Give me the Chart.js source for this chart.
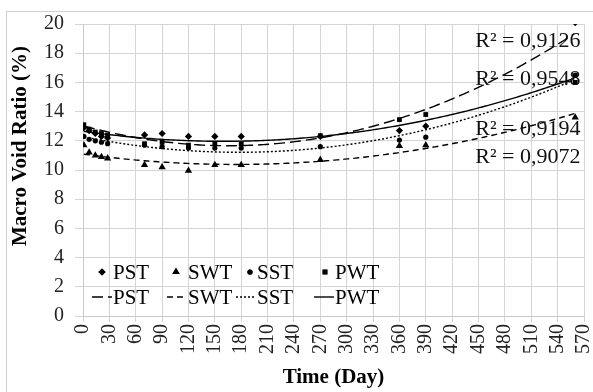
<!DOCTYPE html>
<html>
<head>
<meta charset="utf-8">
<script src="https://cdn.jsdelivr.net/npm/chart.js@4.4.1/dist/chart.umd.min.js"></script>
<style>
  body { margin: 0; background: #fff; }
  canvas { display: block; }
</style>
</head>
<body>
<canvas id="chart" width="593" height="392"></canvas>
<script>
const days = [1, 7, 14, 21, 28, 70, 90, 120, 150, 180, 270, 360, 390, 560];
const pst = [12.9, 12.7, 12.5, 12.3, 12.2, 12.4, 12.5, 12.3, 12.3, 12.3, 12.3, 12.7, 13.0, 20.1];
const swt = [11.7, 11.2, 11.0, 10.9, 10.8, 10.35, 10.2, 9.95, 10.35, 10.35, 10.7, 11.65, 11.7, 13.6];
const sst = [12.3, 12.1, 12.0, 11.9, 11.8, 11.7, 11.6, 11.5, 11.5, 11.5, 11.6, 12.05, 12.25, 16.5];
const pwt = [13.1, 12.8, 12.6, 12.5, 12.4, 11.8, 11.9, 11.7, 11.8, 11.8, 12.35, 13.45, 13.8, 16.0];
const seriesNames = ["PST", "SWT", "SST", "PWT"];
const r2Text = ["R\u00B2 = 0,9126", "R\u00B2 = 0,9548", "R\u00B2 = 0,9194", "R\u00B2 = 0,9072"];

const FONT = "'Liberation Serif', 'Times New Roman', serif";

// 2nd order polynomial trendline (least squares), like the spreadsheet did
function quadFit(xs, ys) {
  const s = [0, 0, 0, 0, 0], t = [0, 0, 0];
  xs.forEach((x0, i) => {
    const x = x0 / 100;
    for (let k = 0; k < 5; k++) s[k] += Math.pow(x, k);
    for (let k = 0; k < 3; k++) t[k] += ys[i] * Math.pow(x, k);
  });
  const m = [[s[0], s[1], s[2], t[0]], [s[1], s[2], s[3], t[1]], [s[2], s[3], s[4], t[2]]];
  for (let i = 0; i < 3; i++) {
    for (let j = i + 1; j < 3; j++) {
      const f = m[j][i] / m[i][i];
      for (let k = i; k < 4; k++) m[j][k] -= f * m[i][k];
    }
  }
  const c = [0, 0, 0];
  for (let i = 2; i >= 0; i--) {
    let v = m[i][3];
    for (let k = i + 1; k < 3; k++) v -= m[i][k] * c[k];
    c[i] = v / m[i][i];
  }
  return x => { const u = x / 100; return c[0] + c[1] * u + c[2] * u * u; };
}

function trend(ys) {
  const f = quadFit(days, ys);
  const pts = [];
  for (let d = days[0]; d <= days[days.length - 1]; d += 3) pts.push({ x: d, y: f(d) });
  return pts;
}

const toPts = ys => days.map((d, i) => ({ x: d, y: ys[i] }));

const markers = ["rectRot", "triangle", "circle", "rect"];
const markerSize = [3.6, 4.2, 2.6, 3.4];
const dashes = [[11, 5], [6, 4], [2, 2], []];
const values = [pst, swt, sst, pwt];

const datasets = [];
values.forEach((ys, i) => {
  datasets.push({
    label: seriesNames[i],
    data: toPts(ys),
    showLine: false,
    pointStyle: markers[i],
    pointRadius: markerSize[i],
    backgroundColor: "#000",
    borderColor: "#000",
    borderWidth: 0,
    order: 0
  });
});
values.forEach((ys, i) => {
  datasets.push({
    label: seriesNames[i] + " trend",
    data: trend(ys),
    showLine: true,
    pointRadius: 0,
    borderColor: "#000",
    borderWidth: 1.4,
    borderDash: dashes[i],
    tension: 0,
    order: 1
  });
});

// extra drawing: outer frame, y title, legend inside the plot, R² labels
const decor = {
  id: "decor",
  beforeDraw(chart) {
    const ctx = chart.ctx;
    ctx.save();
    ctx.fillStyle = "#fff";
    ctx.fillRect(0, 0, chart.width, chart.height);
    ctx.strokeStyle = "#d0d0d0";
    ctx.lineWidth = 1;
    ctx.strokeRect(6.5, 11.5, 640, 420);
    ctx.restore();
  },
  afterDraw(chart) {
    const ctx = chart.ctx;
    const xs = chart.scales.x, ys = chart.scales.y;
    ctx.save();
    // y axis title
    ctx.translate(21, 146);
    ctx.rotate(-Math.PI / 2);
    ctx.font = "bold 21px " + FONT;
    ctx.fillStyle = "#000";
    ctx.textAlign = "center";
    ctx.textBaseline = "middle";
    ctx.fillText("Macro Void Ratio (%)", 0, 0);
    ctx.restore();

    // R² labels
    ctx.save();
    ctx.font = "22px " + FONT;
    ctx.fillStyle = "#111";
    ctx.textAlign = "right";
    ctx.textBaseline = "middle";
    const r2Y = [18.8, 16.2, 12.8, 10.85];
    r2Text.forEach((t, i) => {
      ctx.fillText(t, xs.getPixelForValue(566), ys.getPixelForValue(r2Y[i]));
    });
    ctx.restore();

    // legend
    ctx.save();
    const a = chart.chartArea;
    const row1 = a.bottom - 44, row2 = a.bottom - 19;
    const markX = [19, 93, 167, 242];
    const textX = [30, 105, 174, 252];
    ctx.font = "21px " + FONT;
    ctx.fillStyle = "#000";
    ctx.strokeStyle = "#000";
    ctx.textBaseline = "middle";
    ctx.textAlign = "left";
    seriesNames.forEach((n, i) => {
      Chart.helpers.drawPoint(ctx, { pointStyle: markers[i], radius: markerSize[i], borderWidth: 0 },
        a.left + markX[i], row1);
      ctx.fill();
      ctx.fillText(n, a.left + textX[i], row1 + 1);
      ctx.beginPath();
      ctx.lineWidth = 1.4;
      ctx.setLineDash(dashes[i]);
      ctx.moveTo(a.left + textX[i] - 21, row2);
      ctx.lineTo(a.left + textX[i] - 1, row2);
      ctx.stroke();
      ctx.setLineDash([]);
      ctx.fillText(n, a.left + textX[i], row2 + 1);
    });
    ctx.restore();
  }
};

new Chart(document.getElementById("chart"), {
  type: "scatter",
  data: { datasets: datasets },
  options: {
    responsive: false,
    animation: false,
    layout: { padding: { left: 0, right: 9, top: 24, bottom: 0 } },
    plugins: { legend: { display: false }, tooltip: { enabled: false } },
    scales: {
      x: {
        type: "linear",
        min: 0,
        max: 570,
        afterFit(scale) { scale.height = 76; scale.paddingLeft = 0; scale.paddingRight = 0; },
        ticks: {
          stepSize: 30,
          autoSkip: false,
          minRotation: 90,
          maxRotation: 90,
          padding: 2,
          color: "#222",
          font: { family: FONT, size: 20 }
        },
        grid: { color: "#d4d4d4", tickLength: 6, lineWidth: 1 },
        border: { color: "#c8c8c8" },
        title: {
          display: true,
          text: "Time (Day)",
          color: "#000",
          font: { family: FONT, size: 21, weight: "bold" },
          padding: { top: 0, bottom: 2 }
        }
      },
      y: {
        min: 0,
        max: 20,
        afterFit(scale) { scale.width = 83; scale.paddingTop = 0; scale.paddingBottom = 0; },
        ticks: {
          stepSize: 2,
          padding: 11,
          color: "#222",
          font: { family: FONT, size: 20 }
        },
        grid: { color: "#d4d4d4", tickLength: 8, lineWidth: 1 },
        border: { color: "#c8c8c8" }
      }
    }
  },
  plugins: [decor]
});
</script>
</body>
</html>
